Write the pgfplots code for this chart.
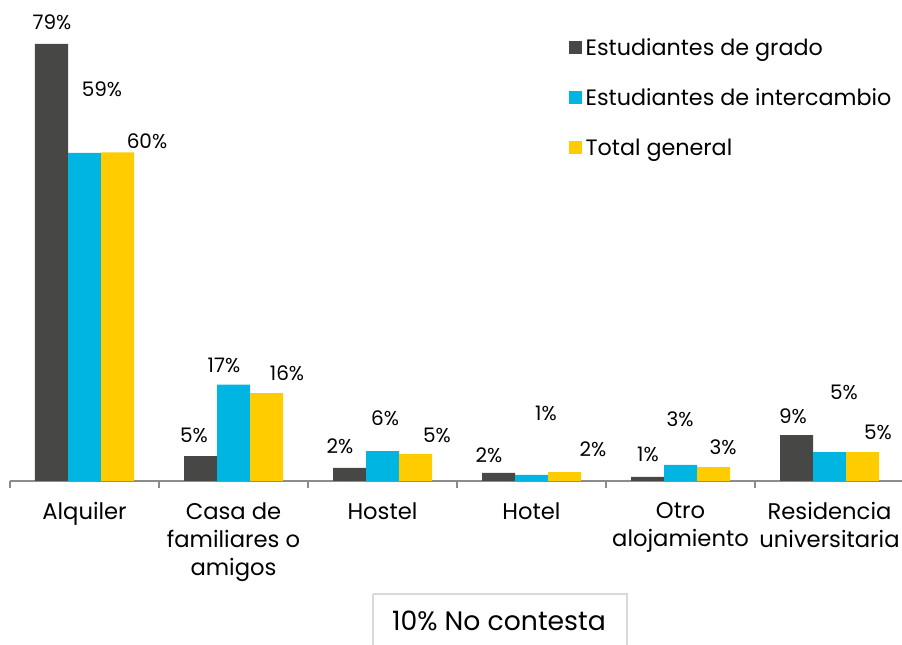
\documentclass[border=0pt]{standalone}
\usepackage{pgfplots}
\pgfplotsset{compat=1.18}
\usepackage{fontspec}
\setmainfont{Poppins}
\definecolor{cgr}{HTML}{474745}
\definecolor{cin}{HTML}{00B5E2}
\definecolor{cto}{HTML}{FFCC00}
\definecolor{caxis}{HTML}{8C8C8C}
\definecolor{cbox}{HTML}{D9D9D9}
\newcommand{\PX}[2]{({(#1-10)*0.75pt},{(481-#2)*0.75pt})}
\begin{document}
\begin{tikzpicture}
\useasboundingbox \PX{0}{0} rectangle \PX{902}{645};
\begin{axis}[
  at={(0,0)}, anchor=south west,
  scale only axis,
  width=670.5pt, height=345.75pt,
  xmin=-0.5, xmax=5.5, ymin=0, ymax=83.33,
  axis y line=none,
  axis x line*=bottom,
  x axis line style={draw=caxis, line width=1.5pt, -},
  xtick={0,1,2,3,4,5},
  xticklabels={Alquiler,{Casa de\\familiares o\\amigos},Hostel,Hotel,{Otro\\alojamiento},{Residencia\\universitaria}},
  major tick length=0pt,
  minor xtick={-0.5,0.5,1.5,2.5,3.5,4.5,5.5},
  minor tick length=5.25pt,
  tick align=outside,
  minor tick style={draw=caxis, line width=1.5pt},
  xticklabel style={anchor=north, inner sep=0pt, yshift=-15.75pt, align=center, font=\fontsize{17}{21.3}\selectfont},
  clip=false,
  legend style={at={(0.6253,0.967)}, anchor=north west, draw=none, fill=none,
    font=\fontsize{16.7}{20}\selectfont, row sep=19.5pt, inner sep=0pt,
    nodes={inner xsep=2.5pt}},
  legend cell align=left,
  legend image code/.code={\fill[#1,draw=none] (0pt,-4.875pt) rectangle (9.75pt,4.875pt);},
  every node near coord/.append style={font=\fontsize{15}{18}\selectfont, anchor=center, inner sep=0pt, text=black},
]
\addplot[ybar, bar width=24.75pt, bar shift=-24.75pt, fill=cgr, draw=none] coordinates {(0,79.0) (1,4.5) (2,2.35) (3,1.45) (4,0.75) (5,8.3)};
\addplot[ybar, bar width=24.75pt, bar shift=0pt, fill=cin, draw=none] coordinates {(0,59.3) (1,17.4) (2,5.4) (3,1.1) (4,2.9) (5,5.2)};
\addplot[ybar, bar width=24.75pt, bar shift=24.75pt, fill=cto, draw=none] coordinates {(0,59.4) (1,15.9) (2,4.9) (3,1.6) (4,2.5) (5,5.2)};
\legend{Estudiantes de grado,Estudiantes de intercambio,Total general}
% data labels (positions, in px converted to axis units)
\addplot[draw=none, mark=none, nodes near coords, point meta=explicit symbolic, forget plot]
 table[meta=lab] {
x y lab
-0.2181 82.95 79\%
0.1174 70.78 59\%
0.4195 61.50 60\%
0.7349 8.32 5\%
0.9362 20.97 17\%
1.3591 19.52 16\%
1.7148 6.33 2\%
2.0168 11.39 6\%
2.3658 8.32 5\%
2.7148 4.70 2\%
3.0973 12.29 1\%
3.4128 5.79 2\%
3.7819 4.88 1\%
3.9966 11.21 3\%
4.2852 6.15 3\%
4.7550 11.75 9\%
5.0973 16.09 5\%
5.3255 8.86 5\%
};
\end{axis}
\draw[cbox, line width=1.5pt] \PX{373}{594} -- \PX{373}{660} \PX{373}{594} -- \PX{627}{594} -- \PX{627}{660};
\node[font=\fontsize{20}{24}\selectfont, inner sep=0pt] at \PX{499}{621} {10\% No contesta};
\end{tikzpicture}
\end{document}
